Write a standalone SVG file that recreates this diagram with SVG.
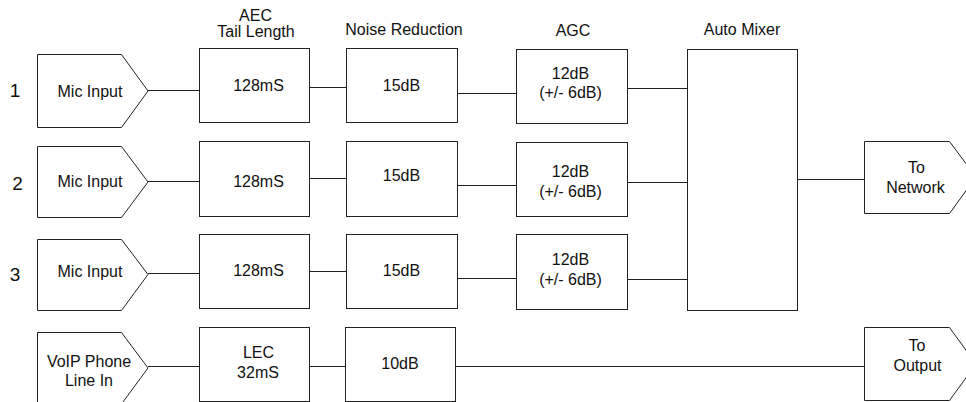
<svg xmlns="http://www.w3.org/2000/svg" width="966" height="402" viewBox="0 0 966 402">
<style>
.s{fill:#fff;stroke:#222;stroke-width:1}
.c{fill:none;stroke:#222;stroke-width:1}
text{font-family:"Liberation Sans",Arial,sans-serif;font-size:16px;fill:#111;text-anchor:middle}
.n{font-size:19px}
</style>
<rect width="966" height="402" fill="#fff"/>
<g id="headers">
<text x="255.5" y="21">AEC</text>
<text x="256" y="37">Tail Length</text>
<text x="404" y="35">Noise Reduction</text>
<text x="573" y="36">AGC</text>
<text x="742" y="34.5">Auto Mixer</text>
</g>
<g id="row-labels">
<text class="n" x="15" y="97">1</text>
<text class="n" x="17.5" y="190">2</text>
<text class="n" x="15" y="281">3</text>
</g>
<g id="connectors">
<path class="c" d="M148 90.5H199.5M309.5 87.5H346.5M457.5 93.5H516.5M627.5 88.5H687.5"/>
<path class="c" d="M148 181.5H199.5M309.5 178.5H346.5M457.5 185.5H516.5M627.5 182.5H687.5"/>
<path class="c" d="M148 273.5H199.5M309.5 271.5H346.5M457.5 278.5H516.5M627.5 279.5H687.5"/>
<path class="c" d="M148 366.5H199.5M309.5 366.5H345.5M455.5 366.5H864.5"/>
<path class="c" d="M797.5 179.5H864.5"/>
</g>
<g id="mic1"><polygon class="s" points="37.5,54.5 121.5,54.5 148,91 121.5,127.5 37.5,127.5"/><text x="90" y="97">Mic Input</text></g>
<g id="mic2"><polygon class="s" points="37.5,146.5 121.5,146.5 148,182 121.5,217.5 37.5,217.5"/><text x="90" y="187">Mic Input</text></g>
<g id="mic3"><polygon class="s" points="37.5,239.5 121.5,239.5 148,274.5 121.5,310.5 37.5,310.5"/><text x="90" y="277">Mic Input</text></g>
<g id="voip"><polygon class="s" points="37.5,332.5 121.5,332.5 148,368 121.5,404 37.5,404"/><text x="89" y="366.5">VoIP Phone</text><text x="89" y="386">Line In</text></g>
<g id="aec1"><rect class="s" x="199.5" y="48.5" width="110" height="74"/><text x="258.5" y="91">128mS</text></g>
<g id="aec2"><rect class="s" x="199.5" y="141.5" width="110" height="75"/><text x="258.5" y="186.5">128mS</text></g>
<g id="aec3"><rect class="s" x="199.5" y="234.5" width="110" height="74"/><text x="258.5" y="275.5">128mS</text></g>
<g id="lec"><rect class="s" x="199.5" y="327.5" width="110" height="74"/><text x="258.5" y="358">LEC</text><text x="258" y="378">32mS</text></g>
<g id="nr1"><rect class="s" x="346.5" y="48.5" width="111" height="74"/><text x="401.5" y="91">15dB</text></g>
<g id="nr2"><rect class="s" x="346.5" y="141.5" width="111" height="75"/><text x="401.5" y="181">15dB</text></g>
<g id="nr3"><rect class="s" x="346.5" y="234.5" width="111" height="74"/><text x="401.5" y="275.5">15dB</text></g>
<g id="nr4"><rect class="s" x="345.5" y="327.5" width="110" height="74"/><text x="400" y="369">10dB</text></g>
<g id="agc1"><rect class="s" x="516.5" y="49.5" width="111" height="74"/><text x="570.5" y="79">12dB</text><text x="570.5" y="98">(+/- 6dB)</text></g>
<g id="agc2"><rect class="s" x="516.5" y="142.5" width="111" height="74"/><text x="570.5" y="177">12dB</text><text x="570.5" y="197">(+/- 6dB)</text></g>
<g id="agc3"><rect class="s" x="516.5" y="234.5" width="111" height="75"/><text x="570.5" y="265">12dB</text><text x="570.5" y="285">(+/- 6dB)</text></g>
<g id="mixer"><rect class="s" x="687.5" y="49.5" width="110" height="261"/></g>
<g id="to-network"><polygon class="s" points="864.5,141.5 949.5,141.5 976,177 949.5,213.5 864.5,213.5"/><text x="916.5" y="172.5">To</text><text x="915.5" y="192.5">Network</text></g>
<g id="to-output"><polygon class="s" points="864.5,327.5 949.5,327.5 976,364 949.5,400.5 864.5,400.5"/><text x="917" y="350.5">To</text><text x="917.5" y="371">Output</text></g>
</svg>
